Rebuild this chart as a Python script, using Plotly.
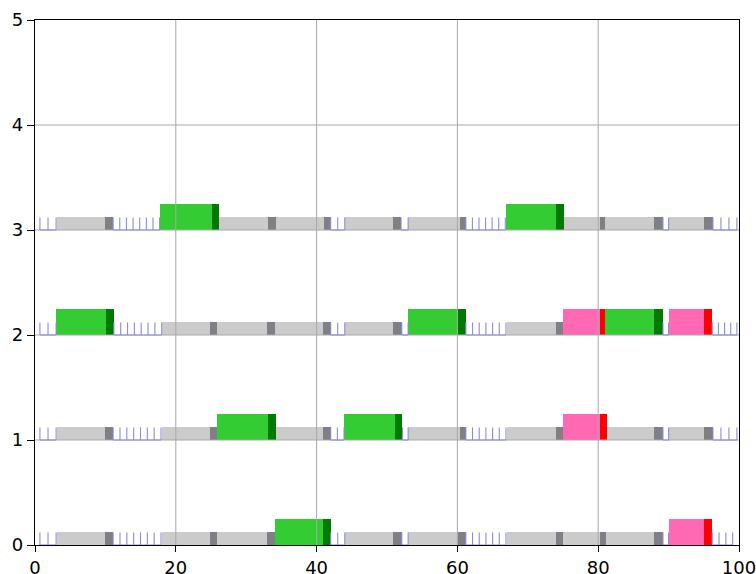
import numpy as np
import plotly.graph_objects as go

# ---------------- data ----------------
# Each task: start, split (where the darker closing part begins), end, kind
# kind: "wait" (grey), "run" (green), "io" (pink)
row0_tasks = [
    (3.1, 9.9, 11.1, "wait"), (18.0, 24.9, 25.9, "wait"), (25.9, 33.0, 34.1, "wait"),
    (34.1, 40.9, 42.0, "run"), (44.0, 50.9, 52.1, "wait"), (53.0, 60.1, 61.2, "wait"),
    (67.0, 74.0, 75.0, "wait"), (75.0, 80.2, 81.1, "wait"), (81.1, 87.9, 89.2, "wait"),
    (90.0, 95.0, 96.2, "io"),
]
row1_tasks = [
    (3.1, 9.9, 11.1, "wait"), (18.0, 24.9, 25.8, "wait"), (25.8, 33.1, 34.2, "run"),
    (34.2, 40.95, 42.0, "wait"), (43.9, 51.1, 52.2, "run"), (53.0, 60.4, 61.2, "wait"),
    (67.0, 74.0, 75.0, "wait"), (75.0, 80.2, 81.2, "io"), (81.2, 87.9, 89.2, "wait"),
    (90.0, 95.0, 96.3, "wait"),
]
row2_tasks = [
    (3.0, 10.1, 11.2, "run"), (18.1, 24.9, 25.9, "wait"), (25.9, 33.0, 34.1, "wait"),
    (34.1, 40.95, 42.0, "wait"), (44.0, 50.9, 52.1, "wait"), (53.0, 60.1, 61.2, "run"),
    (67.0, 74.0, 75.0, "wait"), (75.0, 80.2, 81.0, "io"), (81.0, 87.9, 89.2, "run"),
    (90.0, 95.0, 96.2, "io"),
]
row3_tasks = [
    (3.1, 9.9, 11.1, "wait"), (17.8, 25.1, 26.2, "run"), (26.2, 33.1, 34.3, "wait"),
    (34.3, 41.0, 42.0, "wait"), (44.0, 50.9, 52.0, "wait"), (53.0, 60.4, 61.2, "wait"),
    (66.9, 74.0, 75.1, "run"), (75.1, 80.2, 81.0, "wait"), (81.0, 87.9, 89.2, "wait"),
    (90.0, 95.0, 96.3, "wait"),
]
# idle intervals (drawn as a blue comb)
row0_idle = [(0.7, 3.0), (11.1, 17.9), (42.0, 44.0), (52.1, 53.0), (61.2, 66.9), (89.2, 90.0), (96.2, 99.1)]
row1_idle = [(0.7, 3.0), (11.1, 17.9), (42.0, 43.9), (52.2, 53.0), (61.2, 66.9), (89.2, 90.0), (96.3, 99.7)]
row2_idle = [(0.7, 3.0), (11.2, 18.0), (42.0, 44.0), (52.1, 53.0), (61.2, 66.9), (89.2, 90.0), (96.2, 99.7)]
row3_idle = [(0.7, 3.0), (11.1, 17.7), (42.0, 44.0), (52.0, 53.0), (61.2, 66.8), (89.2, 90.0), (96.3, 99.7)]

rows = [0, 1, 2, 3]
all_tasks = [row0_tasks, row1_tasks, row2_tasks, row3_tasks]
all_idle = [row0_idle, row1_idle, row2_idle, row3_idle]

x_ticks = [0, 20, 40, 60, 80, 100]
y_ticks = [0, 1, 2, 3, 4, 5]

# ---------------- style ----------------
LOW_H = 0.125   # waiting bar thickness
HIGH_H = 0.25   # running / io bar thickness
main_col = {"wait": "#cbcbcb", "run": "#33cc33", "io": "#ff69b4"}
end_col = {"wait": "#7f7f86", "run": "#007a00", "io": "#ff0000"}
height = {"wait": LOW_H, "run": HIGH_H, "io": HIGH_H}
COMB = "#8c8cdc"

fig = go.Figure()

# bars grouped by colour
groups = {}
for r, tasks in zip(rows, all_tasks):
    for (s, m, e, k) in tasks:
        h = height[k]
        groups.setdefault(main_col[k], {"y": [], "x": [], "base": [], "w": []})
        g = groups[main_col[k]]
        g["y"].append(r + h / 2); g["x"].append(m - s); g["base"].append(s); g["w"].append(h)
        groups.setdefault(end_col[k], {"y": [], "x": [], "base": [], "w": []})
        g = groups[end_col[k]]
        g["y"].append(r + h / 2); g["x"].append(e - m); g["base"].append(m); g["w"].append(h)

for col, g in groups.items():
    fig.add_trace(go.Bar(orientation="h", y=g["y"], x=g["x"], base=g["base"], width=g["w"],
                         marker=dict(color=col, line=dict(width=0)), hoverinfo="skip"))

# grid (drawn above the bars, like matplotlib)
gx, gy = [], []
for t in x_ticks[1:-1]:
    gx += [t, t, None]; gy += [0, 5, None]
for t in y_ticks[1:-1]:
    gx += [0, 100, None]; gy += [t, t, None]
fig.add_trace(go.Scatter(x=gx, y=gy, mode="lines", line=dict(color="#a8a8a8", width=1),
                         hoverinfo="skip"))

# idle combs
cx, cy = [], []
for r, idle in zip(rows, all_idle):
    for (a, b) in idle:
        n = max(1, int(round(b - a)))
        ts = np.linspace(a, b, n + 1)
        cx += [a, b, None]; cy += [r, r, None]
        for t in ts:
            cx += [t, t, None]; cy += [r, r + 0.12, None]
fig.add_trace(go.Scatter(x=cx, y=cy, mode="lines", line=dict(color=COMB, width=1.1),
                         hoverinfo="skip"))

font = dict(family="DejaVu Sans", size=18, color="black")
fig.update_layout(
    width=756, height=574,
    margin=dict(l=35, r=17, t=20, b=29),
    plot_bgcolor="white", paper_bgcolor="white",
    showlegend=False, barmode="overlay", bargap=0,
    font=font,
)
fig.update_xaxes(range=[0, 100], tickvals=x_ticks, showgrid=False, zeroline=False,
                 showline=True, linecolor="black", linewidth=1.2, mirror=True,
                 ticks="outside", ticklen=6, tickcolor="black", tickfont=font,
                 automargin=False, ticklabelstandoff=0, ticklabeloverflow="allow")
fig.update_yaxes(range=[0, 5], tickvals=y_ticks, showgrid=False, zeroline=False,
                 showline=True, linecolor="black", linewidth=1.2, mirror=True,
                 ticks="outside", ticklen=7, tickcolor="black", tickfont=font,
                 automargin=False, ticklabeloverflow="allow")

fig.write_html("out.html", config={"displayModeBar": False},
               post_script="document.body.style.margin='0';")
